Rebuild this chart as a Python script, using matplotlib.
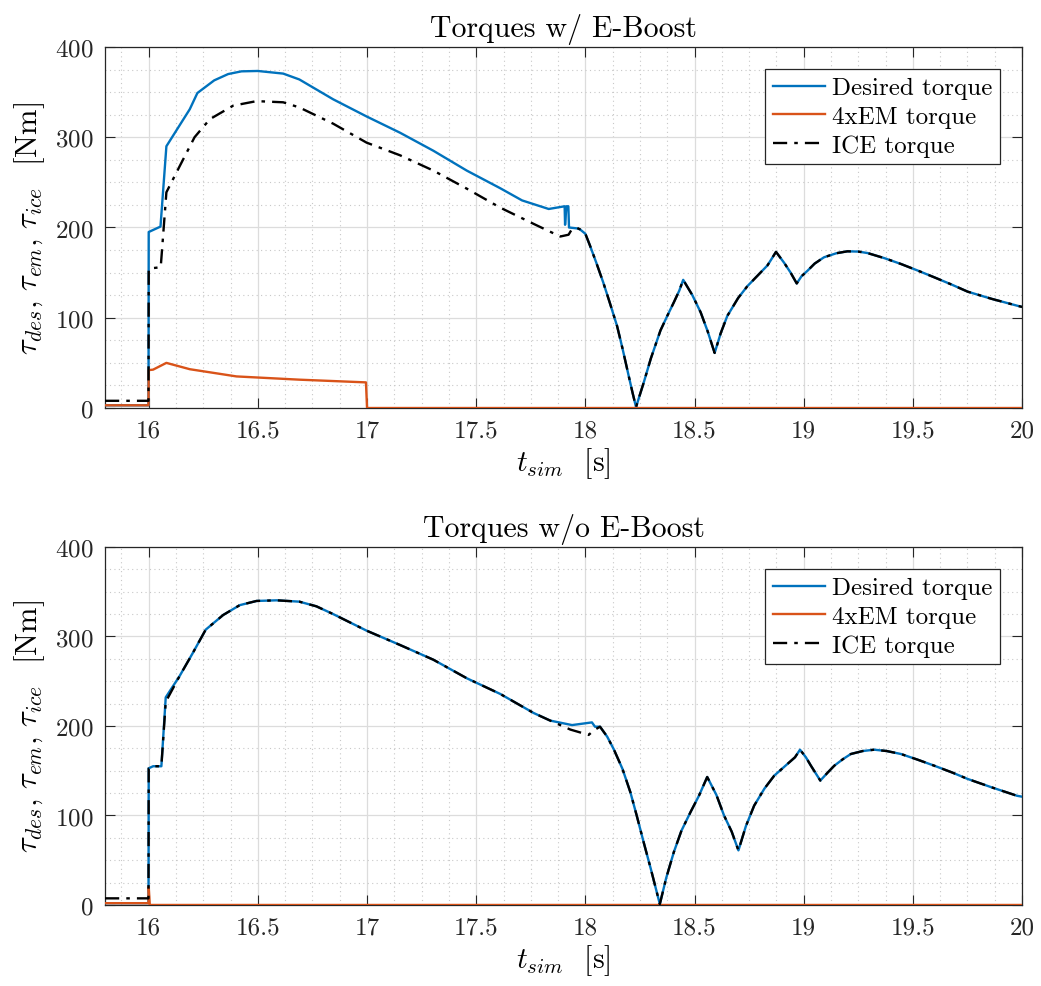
import matplotlib
matplotlib.use('Agg')
import matplotlib.pyplot as plt
from matplotlib.ticker import MultipleLocator

# ---- with E-Boost ----
t_des_boost = [15.8, 15.999, 16.0, 16.054, 16.081, 16.188, 16.223, 16.30, 16.364, 16.425, 16.5,
               16.616, 16.69, 16.845, 16.998, 17.151, 17.304, 17.457, 17.61, 17.71, 17.832,
               17.905, 17.907, 17.913, 17.922, 17.925, 17.962]
y_des_boost = [3, 3, 195, 201, 290, 331, 349, 363, 370, 373, 373.4,
               370.5, 364, 342, 323, 305, 285, 263, 243.5, 230, 220.5,
               223.5, 203, 223.5, 223.5, 200, 199]

t_ice_boost = [15.8, 15.999, 16.0, 16.02, 16.055, 16.081, 16.142, 16.21, 16.28, 16.387, 16.494,
               16.616, 16.69, 16.845, 16.998, 17.151, 17.304, 17.457, 17.61, 17.763, 17.885,
               17.923, 17.938, 17.962]
y_ice_boost = [8, 8, 154, 155, 156, 239, 268, 300, 320, 335, 340,
               338.7, 333, 315, 294, 280, 263, 243, 222, 204, 190,
               192, 198, 199.5]

# common tail (ICE == desired after the transient)
t_tail_boost = [17.975, 18.0, 18.021, 18.05, 18.082, 18.11, 18.145, 18.17, 18.198, 18.215, 18.232,
                18.25, 18.267, 18.30, 18.344, 18.375, 18.405, 18.43, 18.448,
                18.49, 18.528, 18.56, 18.592,
                18.62, 18.65, 18.70, 18.742, 18.79, 18.834, 18.855, 18.873,
                18.91, 18.94, 18.968,
                18.99, 19.017, 19.05, 19.093, 19.15, 19.2, 19.25, 19.292, 19.37, 19.445,
                19.52, 19.598, 19.68, 19.751, 19.86, 19.977, 20.0]
y_tail_boost = [198, 193, 180, 161, 139, 118, 91, 66, 36, 18, 1,
                15, 28, 55, 86, 102, 117, 130, 142,
                125, 106, 85, 61,
                83, 102, 122, 135, 147, 158, 166, 173,
                161, 150, 138,
                146, 152, 160, 167, 171.5, 173.6, 173.3, 171.7, 166, 159.6,
                152.5, 144.8, 136.5, 128.9, 121, 113.4, 112]

t_em_boost = [15.8, 15.999, 16.0, 16.02, 16.081, 16.188, 16.402, 16.69, 16.995, 17.0, 20.0]
y_em_boost = [3, 3, 42, 42.5, 50, 43, 35, 31.4, 28.4, 0, 0]

# ---- without E-Boost ----
t_des_base = [15.8, 15.999, 16.0, 16.02, 16.058, 16.078, 16.142, 16.203, 16.261, 16.341, 16.417,
              16.494, 16.586, 16.69, 16.768, 16.845, 16.998, 17.151, 17.304, 17.457, 17.61,
              17.763, 17.839, 17.939, 18.03, 18.044, 18.067]
y_des_base = [2, 2, 152.7, 155, 155, 232, 256, 282, 307.6, 324, 335,
              339.7, 340.4, 338.9, 333.7, 325, 306.5, 290.5, 274, 253.3, 235.8,
              214.5, 206, 201, 204, 199.2, 199.2]

t_ice_base = [15.8, 15.999, 16.0, 16.02, 16.058, 16.078, 16.142, 16.203, 16.261, 16.341, 16.417,
              16.494, 16.586, 16.69, 16.768, 16.845, 16.998, 17.151, 17.304, 17.457, 17.61,
              17.763, 17.839, 17.931, 18.015, 18.038, 18.067]
y_ice_base = [7.4, 7.4, 152.7, 155, 155, 227, 256, 282, 307.6, 324, 335,
              339.7, 340.4, 338.9, 333.7, 325, 306.5, 290.5, 274, 253.3, 235.8,
              214.5, 206, 196, 190, 195, 199.2]

t_tail_base = [18.1, 18.13, 18.17, 18.206, 18.235, 18.267, 18.30, 18.341,
               18.37, 18.405, 18.44, 18.482, 18.52, 18.558,
               18.60, 18.635, 18.67, 18.701,
               18.735, 18.773, 18.82, 18.865, 18.934, 18.96, 18.983,
               19.01, 19.033, 19.076,
               19.11, 19.14, 19.18, 19.216, 19.27, 19.323, 19.38, 19.445, 19.52, 19.598,
               19.68, 19.751, 19.86, 19.977, 20.0]
y_tail_base = [188, 174, 152, 126, 100, 70, 40, 1,
               30, 59, 83, 104, 122, 143,
               123, 100, 82, 61,
               88, 111, 130, 144.5, 159.4, 165, 173.5,
               165, 155.6, 139,
               148, 155.6, 163, 168.7, 172, 173.5, 172, 168.7, 162.5, 155.6,
               148, 140.8, 131.5, 122, 121]

t_em_base = [15.8, 15.999, 16.0, 16.005, 20.0]
y_em_base = [2, 2, 20, 0, 0]

titles = ['Torques w/ E-Boost', 'Torques w/o E-Boost']
legend_labels = ['Desired torque', '4xEM torque', 'ICE torque']
x_ticks = [16, 16.5, 17, 17.5, 18, 18.5, 19, 19.5, 20]
x_ticklabels = ['16', '16.5', '17', '17.5', '18', '18.5', '19', '19.5', '20']

blue = '#0072BD'
orange = '#D95319'

plt.rcParams['font.family'] = 'serif'
plt.rcParams['font.serif'] = ['cmr10']
plt.rcParams['mathtext.fontset'] = 'cm'
plt.rcParams['axes.formatter.use_mathtext'] = True
plt.rcParams['axes.unicode_minus'] = False

fig = plt.figure(figsize=(10.41, 9.87), dpi=100)
ax1 = fig.add_axes([0.1009, 0.5856, 0.8809, 0.3658])
ax2 = fig.add_axes([0.1009, 0.0821, 0.8809, 0.3627])

datasets = [
    (t_des_boost, y_des_boost, t_ice_boost, y_ice_boost, t_tail_boost, y_tail_boost, t_em_boost, y_em_boost),
    (t_des_base, y_des_base, t_ice_base, y_ice_base, t_tail_base, y_tail_base, t_em_base, y_em_base),
]

for ax, title, d in zip([ax1, ax2], titles, datasets):
    td, yd, ti, yi, tt, yt, te, ye = d
    ax.plot(td + tt, yd + yt, color=blue, lw=1.7, label=legend_labels[0], zorder=3)
    ax.plot(te, ye, color=orange, lw=1.7, label=legend_labels[1], zorder=4)
    ax.plot(ti + tt, yi + yt, color='black', lw=1.7, ls=(0, (6, 3, 1.5, 3)),
            label=legend_labels[2], zorder=5)

    ax.set_xlim(15.8, 20)
    ax.set_ylim(0, 400)
    ax.xaxis.set_minor_locator(MultipleLocator(0.125))
    ax.yaxis.set_major_locator(MultipleLocator(100))
    ax.yaxis.set_minor_locator(MultipleLocator(25))
    ax.set_xticks(x_ticks)
    ax.set_xticklabels(x_ticklabels)

    ax.grid(which='major', color='#dcdcdc', lw=0.9, ls='-', zorder=0)
    ax.grid(which='minor', color='#c8c8c8', lw=0.8, ls=(0, (1, 3)), zorder=0)
    ax.set_axisbelow(True)
    ax.tick_params(which='major', direction='in', length=7, width=0.8,
                   top=True, right=True, labelsize=18, colors='#262626', pad=8)
    ax.tick_params(which='minor', length=0, top=True, right=True)
    for s in ax.spines.values():
        s.set_color('#262626')
        s.set_linewidth(0.9)

    ax.set_title(title, fontsize=21.5, pad=8)
    ax.set_xlabel(r'$t_{sim}$  [s]', fontsize=21.5, labelpad=3)
    ax.set_ylabel(r'$\tau_{des},\, \tau_{em},\, \tau_{ice}$  [Nm]', fontsize=22, labelpad=6)

    leg = ax.legend(loc='upper right', fontsize=18, fancybox=False, framealpha=1,
                    edgecolor='#262626', handlelength=2.1, borderpad=0.3,
                    labelspacing=0.25, handletextpad=0.25, borderaxespad=0.9)
    leg.get_frame().set_linewidth(0.9)

fig.savefig('out.png', dpi=100)
